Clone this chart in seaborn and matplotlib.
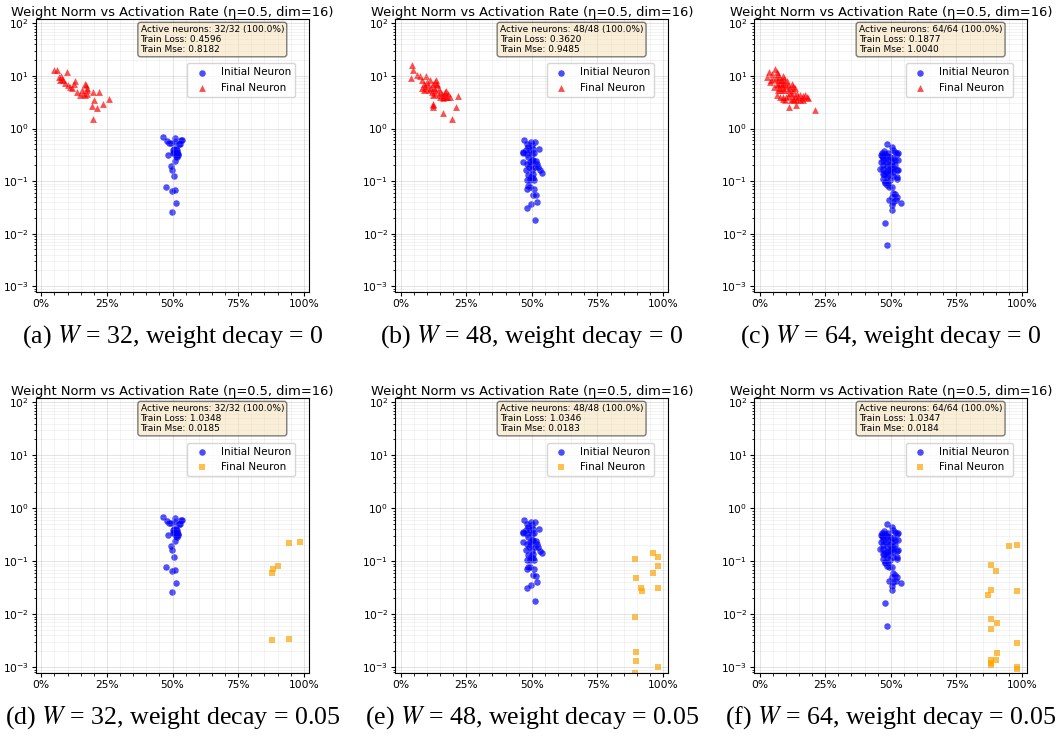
import matplotlib
matplotlib.use("Agg")
import matplotlib.pyplot as plt
import seaborn as sns
from matplotlib.ticker import MultipleLocator, PercentFormatter

# initial neurons (shared by both weight decay settings)
init32_x = [0.463, 0.478, 0.488, 0.493, 0.511, 0.511, 0.531, 0.535, 0.530, 0.513, 0.501, 0.506,
            0.516, 0.520, 0.508, 0.513, 0.521, 0.483, 0.509, 0.493, 0.498, 0.506, 0.476, 0.497,
            0.508, 0.512, 0.498, 0.507, 0.503, 0.516, 0.518, 0.525]
init32_y = [0.690, 0.579, 0.531, 0.531, 0.670, 0.555, 0.614, 0.597, 0.501, 0.414, 0.343, 0.358,
            0.358, 0.333, 0.324, 0.296, 0.309, 0.309, 0.238, 0.191, 0.165, 0.123, 0.0773, 0.0649,
            0.0689, 0.0384, 0.0263, 0.414, 0.386, 0.386, 0.288, 0.515]

init48_x = [0.472, 0.481, 0.487, 0.496, 0.512, 0.500, 0.493, 0.465, 0.481, 0.487, 0.500, 0.508,
            0.529, 0.468, 0.481, 0.493, 0.500, 0.506, 0.516, 0.521, 0.525, 0.531, 0.538, 0.477,
            0.500, 0.506, 0.487, 0.496, 0.506, 0.481, 0.493, 0.508, 0.481, 0.493, 0.508, 0.484,
            0.503, 0.516, 0.521, 0.497, 0.481, 0.512, 0.468, 0.496, 0.512, 0.491, 0.503, 0.478]
init48_y = [0.597, 0.501, 0.446, 0.555, 0.555, 0.480, 0.386, 0.343, 0.324, 0.288, 0.324, 0.343,
            0.414, 0.231, 0.208, 0.231, 0.248, 0.256, 0.242, 0.208, 0.186, 0.160, 0.143, 0.165,
            0.160, 0.139, 0.129, 0.120, 0.116, 0.104, 0.104, 0.107, 0.0719, 0.0773, 0.0719, 0.0796,
            0.0553, 0.0537, 0.0401, 0.0362, 0.0308, 0.0180, 0.358, 0.200, 0.186, 0.186, 0.414, 0.396]

init64_x = [0.484, 0.503, 0.465, 0.461, 0.478, 0.491, 0.507, 0.516, 0.522, 0.529, 0.472, 0.484,
            0.497, 0.510, 0.472, 0.482, 0.491, 0.503, 0.516, 0.461, 0.469, 0.484, 0.497, 0.507,
            0.529, 0.459, 0.472, 0.491, 0.503, 0.474, 0.497, 0.510, 0.525, 0.529, 0.469, 0.491,
            0.507, 0.497, 0.487, 0.522, 0.488, 0.479, 0.484, 0.503, 0.492, 0.472, 0.478, 0.525,
            0.510, 0.517, 0.503, 0.522, 0.520, 0.510, 0.492, 0.503, 0.503, 0.482, 0.539, 0.479,
            0.484, 0.465, 0.474, 0.516]
init64_y = [0.501, 0.446, 0.343, 0.309, 0.333, 0.343, 0.386, 0.358, 0.333, 0.343, 0.288, 0.296,
            0.288, 0.279, 0.248, 0.231, 0.256, 0.231, 0.248, 0.231, 0.200, 0.191, 0.200, 0.186,
            0.256, 0.173, 0.173, 0.160, 0.173, 0.139, 0.156, 0.149, 0.160, 0.165, 0.139, 0.129,
            0.123, 0.104, 0.120, 0.120, 0.0923, 0.0964, 0.0832, 0.0773, 0.0773, 0.111, 0.0923, 0.111,
            0.0594, 0.0561, 0.0499, 0.0499, 0.0431, 0.0401, 0.0431, 0.0347, 0.0287, 0.149, 0.0384,
            0.0160, 0.0060, 0.296, 0.374, 0.200]

# final neurons, weight decay = 0
final32_x = [0.049, 0.061, 0.069, 0.075, 0.080, 0.071, 0.084, 0.097, 0.092, 0.103, 0.110, 0.116,
             0.125, 0.130, 0.135, 0.148, 0.154, 0.158, 0.167, 0.170, 0.173, 0.176, 0.167, 0.176,
             0.198, 0.202, 0.221, 0.193, 0.214, 0.236, 0.259, 0.198]
final32_y = [13.2, 13.2, 9.55, 9.8, 8.87, 8.24, 8.24, 11.9, 7.34, 6.63, 6.16, 5.98,
             7.13, 8.01, 4.95, 4.28, 5.32, 4.60, 7.13, 6.63, 5.98, 5.32, 4.28, 4.47,
             4.95, 3.54, 4.95, 2.68, 2.42, 2.88, 3.70, 1.54]

final48_x = [0.044, 0.049, 0.040, 0.061, 0.074, 0.097, 0.082, 0.089, 0.080, 0.093, 0.100, 0.106,
             0.112, 0.115, 0.119, 0.122, 0.127, 0.133, 0.135, 0.140, 0.131, 0.122, 0.145, 0.150,
             0.148, 0.157, 0.160, 0.166, 0.169, 0.173, 0.178, 0.182, 0.188, 0.173, 0.131, 0.110,
             0.097, 0.089, 0.122, 0.125, 0.125, 0.163, 0.196, 0.210, 0.219, 0.163, 0.150, 0.138]
final48_y = [16.5, 13.2, 9.27, 10.3, 9.83, 9.83, 8.24, 7.13, 5.98, 6.34, 7.67, 6.63,
             8.24, 5.98, 4.95, 7.13, 5.98, 5.32, 8.49, 6.63, 4.47, 4.28, 5.73, 4.95,
             4.28, 4.60, 3.98, 4.28, 4.95, 3.98, 3.98, 4.47, 3.98, 5.17, 7.67, 5.48,
             5.73, 5.32, 2.76, 2.57, 2.97, 2.00, 1.54, 2.57, 4.09, 3.86, 3.98, 7.13]

final64_x = [0.027, 0.037, 0.046, 0.059, 0.065, 0.072, 0.044, 0.053, 0.063, 0.069, 0.075, 0.080,
             0.088, 0.093, 0.065, 0.072, 0.078, 0.084, 0.091, 0.097, 0.075, 0.080, 0.088, 0.093,
             0.101, 0.110, 0.116, 0.122, 0.129, 0.135, 0.110, 0.116, 0.122, 0.129, 0.135, 0.141,
             0.148, 0.154, 0.160, 0.167, 0.173, 0.180, 0.065, 0.078, 0.091, 0.101, 0.110, 0.119,
             0.114, 0.138, 0.144, 0.154, 0.186, 0.211, 0.084, 0.088, 0.097, 0.126, 0.167, 0.072,
             0.055, 0.040, 0.106, 0.131]
final64_y = [9.55, 11.9, 11.0, 13.7, 11.9, 11.0, 8.24, 8.87, 9.27, 8.24, 9.55, 8.49,
             9.83, 9.27, 7.13, 6.63, 7.34, 6.63, 7.13, 7.67, 5.98, 5.48, 5.98, 5.32,
             6.34, 6.63, 5.98, 6.92, 6.34, 5.98, 5.32, 4.74, 4.47, 5.32, 4.09, 4.60,
             3.98, 4.28, 3.86, 4.09, 4.28, 3.98, 4.28, 3.98, 3.70, 3.98, 4.09, 3.54,
             2.57, 2.76, 3.54, 3.44, 3.86, 2.22, 8.24, 3.98, 3.54, 3.70, 3.54, 5.32,
             6.16, 7.67, 8.01, 3.44]

# final neurons, weight decay = 0.05 (only the points inside the axis range)
decay32_x = [0.880, 0.884, 0.903, 0.943, 0.985, 0.880, 0.943]
decay32_y = [0.059, 0.0724, 0.081, 0.218, 0.231, 0.00324, 0.00334]

decay48_x = [0.894, 0.897, 0.916, 0.919, 0.894, 0.963, 0.982, 0.960, 0.982, 0.982, 0.897, 0.897,
             0.981, 0.894]
decay48_y = [0.109, 0.0489, 0.0316, 0.0273, 0.00895, 0.145, 0.120, 0.0590, 0.0813, 0.0312,
             0.00192, 0.00130, 0.00100, 0.00078]

decay64_x = [0.880, 0.901, 0.952, 0.982, 0.880, 0.870, 0.982, 0.880, 0.880, 0.903, 0.982, 0.903,
             0.880, 0.880, 0.901, 0.880, 0.982, 0.982]
decay64_y = [0.0835, 0.0653, 0.194, 0.203, 0.0286, 0.0226, 0.0273, 0.00820, 0.00516, 0.00670,
             0.00289, 0.00187, 0.00136, 0.00121, 0.00134, 0.00108, 0.00100, 0.00091]

widths = [32, 48, 64]
losses_wd0 = ["0.4596", "0.3620", "0.1877"]
mses_wd0 = ["0.8182", "0.9485", "1.0040"]
losses_wd5 = ["1.0348", "1.0346", "1.0347"]
mses_wd5 = ["0.0185", "0.0183", "0.0184"]
captions = [r"(a) $W$ = 32, weight decay = 0",
            r"(b) $W$ = 48, weight decay = 0",
            r"(c) $W$ = 64, weight decay = 0",
            r"(d) $W$ = 32, weight decay = 0.05",
            r"(e) $W$ = 48, weight decay = 0.05",
            r"(f) $W$ = 64, weight decay = 0.05"]

TITLE = "Weight Norm vs Activation Rate (\u03b7=0.5, dim=16)"
W, H = 1058, 736


def draw_panel(ax, ix, iy, fx, fy, marker, color, width, loss, mse):
    ax.set_yscale("log")
    sns.scatterplot(x=ix, y=iy, ax=ax, marker="o", color="blue", alpha=0.7, s=22,
                    linewidth=0, label="Initial Neuron")
    sns.scatterplot(x=fx, y=fy, ax=ax, marker=marker, color=color, alpha=0.7, s=24,
                    linewidth=0, label="Final Neuron")
    ax.set_xlim(-0.02, 1.02)
    ax.set_ylim(10 ** -3.11, 10 ** 2.085)
    ax.xaxis.set_major_locator(MultipleLocator(0.25))
    ax.xaxis.set_minor_locator(MultipleLocator(0.05))
    ax.xaxis.set_major_formatter(PercentFormatter(1.0, decimals=0))
    ax.tick_params(labelsize=7.7, length=3, pad=2)
    ax.tick_params(which="minor", length=1.8)
    ax.grid(True, which="major", alpha=0.35, linewidth=0.7)
    ax.grid(True, which="minor", alpha=0.2, linewidth=0.5)
    ax.set_xlabel("")
    ax.set_ylabel("")
    ax.set_title(TITLE, fontsize=9.4, pad=2)
    stats = (f"Active neurons: {width}/{width} (100.0%)\n"
             f"Train Loss: {loss}\nTrain Mse: {mse}")
    ax.text(0.383, 0.978, stats, transform=ax.transAxes, fontsize=6.5, va="top",
            linespacing=1.15, bbox=dict(boxstyle="round", facecolor="wheat", alpha=0.5))
    ax.legend(loc="upper right", bbox_to_anchor=(0.949, 0.838), fontsize=7.5,
              borderaxespad=0)


fig = plt.figure(figsize=(W / 100, H / 100), dpi=100)

lefts = [36, 395.3, 754.3]
rows = [(19, 273), (398, 275)]
caption_y = [337, 718]

init_x = [init32_x, init48_x, init64_x]
init_y = [init32_y, init48_y, init64_y]
final_x = [final32_x, final48_x, final64_x]
final_y = [final32_y, final48_y, final64_y]
decay_x = [decay32_x, decay48_x, decay64_x]
decay_y = [decay32_y, decay48_y, decay64_y]

for r, (top, h) in enumerate(rows):
    for c, left in enumerate(lefts):
        ax = fig.add_axes([left / W, 1 - (top + h) / H, 273 / W, h / H])
        if r == 0:
            draw_panel(ax, init_x[c], init_y[c], final_x[c], final_y[c], "^", "red",
                       widths[c], losses_wd0[c], mses_wd0[c])
        else:
            draw_panel(ax, init_x[c], init_y[c], decay_x[c], decay_y[c], "s", "orange",
                       widths[c], losses_wd5[c], mses_wd5[c])
        fig.text((left + 136.5) / W, 1 - caption_y[r] / H, captions[r * 3 + c],
                 ha="center", va="center", fontsize=18.6, family="Liberation Serif",
                 math_fontfamily="stix")

fig.savefig("out.png", dpi=100)
